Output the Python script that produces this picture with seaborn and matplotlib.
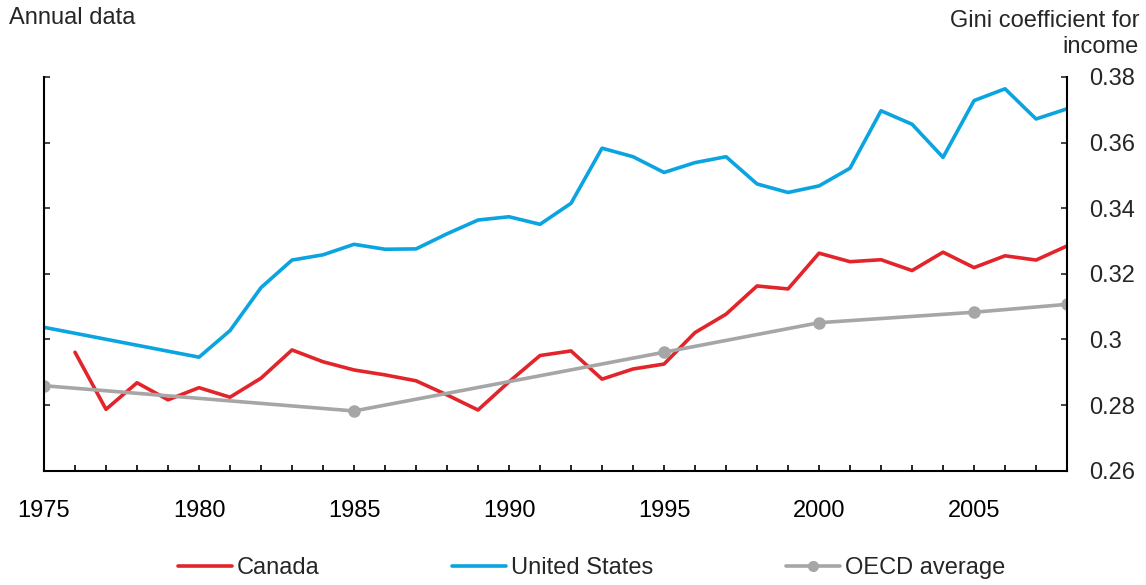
import numpy as np
import pandas as pd
import seaborn as sns
import matplotlib.pyplot as plt
from matplotlib.lines import Line2D

# Gini coefficient values
canada_years = list(range(1976, 2009))
canada = [0.2961, 0.2787, 0.2868, 0.2816, 0.2853, 0.2824, 0.2882, 0.2968, 0.2932, 0.2907,
          0.2892, 0.2874, 0.2831, 0.2785, 0.2871, 0.2951, 0.2965, 0.2879, 0.2910, 0.2925,
          0.3021, 0.3077, 0.3163, 0.3154, 0.3263, 0.3237, 0.3243, 0.3210, 0.3266, 0.3219,
          0.3255, 0.3242, 0.3285]

us_years = [1975, 1980] + list(range(1981, 2009))
us = [0.3037, 0.2946, 0.3027, 0.3158, 0.3242, 0.3258, 0.3290, 0.3275, 0.3276, 0.3322,
      0.3364, 0.3374, 0.3351, 0.3415, 0.3583, 0.3557, 0.3509, 0.3539, 0.3557, 0.3474,
      0.3448, 0.3468, 0.3522, 0.3697, 0.3656, 0.3555, 0.3728, 0.3764, 0.3672, 0.3703]

oecd_years = [1975, 1985, 1995, 2000, 2005, 2008]
oecd = [0.2859, 0.2782, 0.2961, 0.3051, 0.3083, 0.3107]

x_ticks = [1975, 1980, 1985, 1990, 1995, 2000, 2005]
y_ticks = [0.26, 0.28, 0.30, 0.32, 0.34, 0.36, 0.38]
y_labels = ['0.26', '0.28', '0.3', '0.32', '0.34', '0.36', '0.38']

red = '#e2252b'
blue = '#0aa4e0'
grey = '#a6a6a6'

sns.set_style('white')
plt.rcParams['font.family'] = ['Liberation Sans', 'DejaVu Sans']
fs = 17

fig = plt.figure(figsize=(11.46, 5.85), dpi=100)
ax = fig.add_axes([0.0384, 0.1954, 0.8927, 0.673])

sns.lineplot(x=us_years, y=us, color=blue, linewidth=2.6, ax=ax)
sns.lineplot(x=canada_years, y=canada, color=red, linewidth=2.6, ax=ax)
sns.lineplot(x=oecd_years, y=oecd, color=grey, linewidth=2.6, marker='o',
             markersize=9, markeredgewidth=0, ax=ax)

ax.set_xlim(1975, 2008)
ax.set_ylim(0.26, 0.38)
ax.set_xticks(range(1975, 2009), minor=True)
ax.set_xticks(x_ticks)
ax.set_xticklabels([str(y) for y in x_ticks])
ax.set_yticks(y_ticks)
ax.set_yticklabels(y_labels)
ax.set_xlabel('')
ax.set_ylabel('')

for s in ['left', 'right', 'bottom']:
    ax.spines[s].set_visible(True)
    ax.spines[s].set_color('black')
    ax.spines[s].set_linewidth(1.5)
ax.spines['top'].set_visible(False)

ax.tick_params(axis='x', which='both', direction='in', length=4, width=1.2,
               bottom=True, top=False, labelsize=fs, pad=21, colors='black')
ax.tick_params(axis='y', direction='in', length=4, width=1.2, left=True, right=True,
               labelleft=False, labelright=True, labelsize=fs, pad=16)

fig.text(9 / 1146, 1 - 24 / 585, 'Annual data', fontsize=fs, ha='left', va='baseline')
fig.text(1139 / 1146, 1 - 26.7 / 585, 'Gini coefficient for', fontsize=fs, ha='right', va='baseline')
fig.text(1139 / 1146, 1 - 53.3 / 585, 'income', fontsize=fs, ha='right', va='baseline')

entries = [
    (Line2D([], [], color=red, lw=2.6), 'Canada', 178),
    (Line2D([], [], color=blue, lw=2.6), 'United States', 452),
    (Line2D([], [], color=grey, lw=2.6, marker='o', markersize=8, markeredgewidth=0), 'OECD average', 786),
]
for handle, label, xpix in entries:
    fig.legend([handle], [label], loc='center left', bbox_to_anchor=(xpix / 1146, 1 - 568 / 585),
               frameon=False, fontsize=fs, handlelength=2.3, handletextpad=0.2,
               borderpad=0, borderaxespad=0)

fig.savefig('out.png', dpi=100)
